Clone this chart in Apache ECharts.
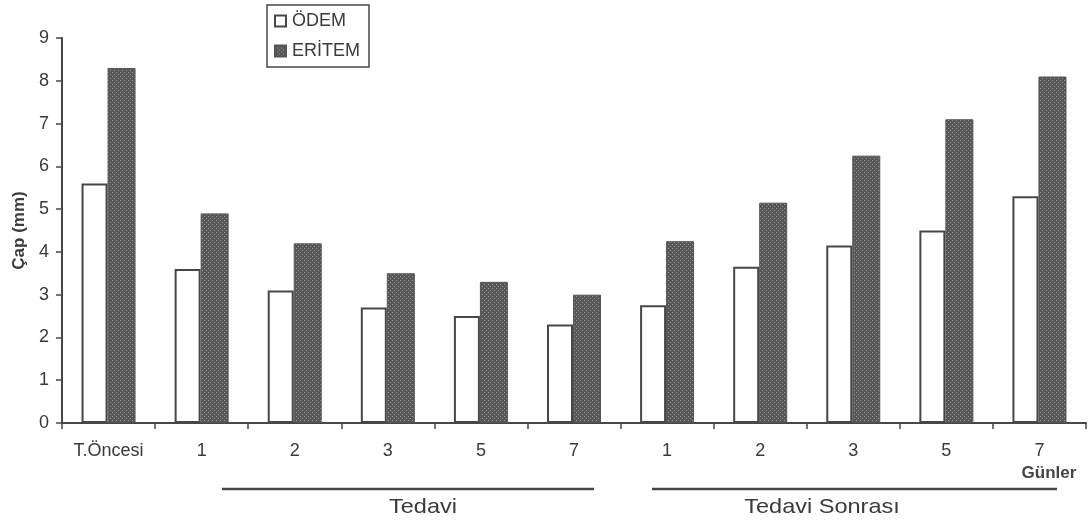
<!DOCTYPE html>
<html>
<head>
<meta charset="utf-8">
<script src="https://cdn.jsdelivr.net/npm/echarts@6/dist/echarts.min.js"></script>
<style>
  html, body { margin: 0; padding: 0; background: #ffffff; }
  #chart { width: 1091px; height: 525px; }
</style>
</head>
<body>
<div id="chart"></div>
<script>
// Day labels: pre-treatment, treatment days, post-treatment days
const categories = ['T.Öncesi', '1', '2', '3', '5', '7', '1 ', '2 ', '3 ', '5 ', '7 '];
// Mean diameters (mm)
const odem   = [5.6, 3.6, 3.1, 2.7, 2.5, 2.3, 2.75, 3.65, 4.15, 4.5, 5.3];
const eritem = [8.3, 4.9, 4.2, 3.5, 3.3, 3.0, 4.25, 5.15, 6.25, 7.1, 8.1];
const yTicks = [0, 1, 2, 3, 4, 5, 6, 7, 8, 9];

const ink = '#474747';
const textInk = '#3a3a3a';
const font = '"Liberation Sans", Arial, sans-serif';

// Stippled dark fill for the ERİTEM bars
function stipple() {
  const c = document.createElement('canvas');
  c.width = 4; c.height = 4;
  const g = c.getContext('2d');
  g.fillStyle = '#575757';
  g.fillRect(0, 0, 4, 4);
  g.fillStyle = '#999999';
  g.fillRect(0, 0, 1, 1);
  g.fillRect(2, 2, 1, 1);
  return c;
}

const chart = echarts.init(document.getElementById('chart'), null, { renderer: 'canvas' });

chart.setOption({
  animation: false,
  backgroundColor: '#ffffff',
  grid: { left: 62, right: 5, top: 38, bottom: 102, containLabel: false, outerBoundsMode: 'none' },
  legend: {
    orient: 'vertical',
    left: 267,
    top: 5,
    padding: [7, 9, 7, 7],
    itemWidth: 11,
    itemHeight: 11,
    itemGap: 12,
    borderColor: ink,
    borderWidth: 1.5,
    textStyle: { fontFamily: font, fontSize: 18, color: textInk, padding: [0, 0, 0, 1] },
    data: [
      { name: 'ÖDEM', icon: 'rect' },
      { name: 'ERİTEM', icon: 'rect' }
    ]
  },
  xAxis: {
    type: 'category',
    data: categories,
    axisLine: { lineStyle: { color: ink, width: 2 } },
    axisTick: { show: true, length: 6, lineStyle: { color: ink, width: 1.5 } },
    axisLabel: {
      fontFamily: font, fontSize: 18, color: textInk, margin: 19,
      formatter: v => v.trim()
    }
  },
  yAxis: {
    type: 'value',
    min: yTicks[0],
    max: yTicks[yTicks.length - 1],
    interval: 1,
    name: 'Çap (mm)',
    nameLocation: 'middle',
    nameRotate: 90,
    nameGap: 33,
    nameTextStyle: { fontFamily: font, fontSize: 17, fontWeight: 'bold', color: textInk },
    splitLine: { show: false },
    axisLine: { show: true, lineStyle: { color: ink, width: 2 } },
    axisTick: { show: true, length: 6, lineStyle: { color: ink, width: 1.5 } },
    axisLabel: { fontFamily: font, fontSize: 18, color: textInk, margin: 13 }
  },
  series: [
    {
      name: 'ÖDEM',
      type: 'bar',
      data: odem,
      barWidth: 26,
      barGap: 0,
      itemStyle: { color: '#ffffff', borderColor: ink, borderWidth: 2 }
    },
    {
      name: 'ERİTEM',
      type: 'bar',
      data: eritem,
      barWidth: 28,
      itemStyle: { color: { image: stipple(), repeat: 'repeat' }, borderColor: '#555', borderWidth: 1 }
    }
  ],
  graphic: [
    { type: 'text', x: 1049, y: 482,
      style: { text: 'Günler', x: 0, y: 0, align: 'center', verticalAlign: 'bottom',
               font: 'bold 17px ' + font, fill: '#444' } },
    { type: 'line', shape: { x1: 222, y1: 489, x2: 594, y2: 489 },
      style: { stroke: ink, lineWidth: 2.5 } },
    { type: 'text', x: 423, y: 518, scaleX: 1.12,
      style: { text: 'Tedavi', x: 0, y: 0, align: 'center', verticalAlign: 'bottom',
               font: '21px ' + font, fill: textInk } },
    { type: 'line', shape: { x1: 652, y1: 489, x2: 1057, y2: 489 },
      style: { stroke: ink, lineWidth: 2.5 } },
    { type: 'text', x: 822, y: 518, scaleX: 1.12,
      style: { text: 'Tedavi Sonrası', x: 0, y: 0, align: 'center', verticalAlign: 'bottom',
               font: '21px ' + font, fill: textInk } }
  ]
});
</script>
</body>
</html>
